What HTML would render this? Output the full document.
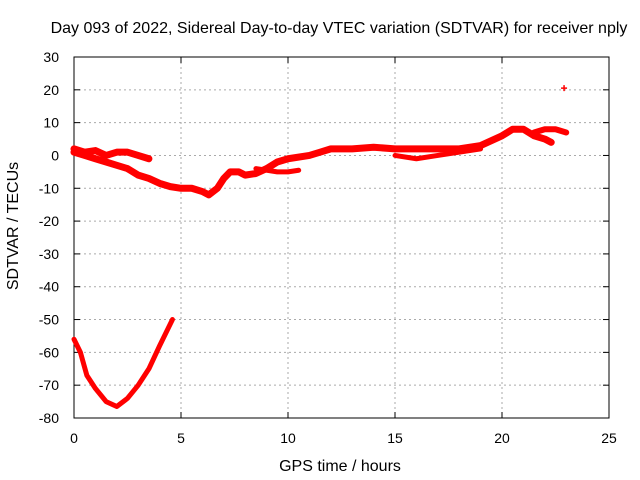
<!DOCTYPE html>
<html><head><meta charset="utf-8"><style>
body{margin:0;background:#fff}
svg{display:block;font-family:"Liberation Sans",sans-serif;font-size:14px}
</style></head><body>
<svg width="640" height="480">
<g id="grid"></g>
<g id="axes"></g>
<g id="series"></g>
<text x="339" y="33" text-anchor="middle" style="font-size:16px">Day 093 of 2022, Sidereal Day-to-day VTEC variation (SDTVAR) for receiver nply</text>
<text x="340" y="471" text-anchor="middle" style="font-size:16px">GPS time / hours</text>
<text x="18" y="226" text-anchor="middle" style="font-size:16px" transform="rotate(-90 18 226)">SDTVAR / TECUs</text>
</svg>
<script>
const xTicks=[0,5,10,15,20,25];
const yTicks=[30,20,10,0,-10,-20,-30,-40,-50,-60,-70,-80];
const lowerCurve=[[0,-56],[0.3,-60],[0.6,-67],[1,-71],[1.5,-75],[2,-76.5],[2.5,-74],[3,-70],[3.5,-65],[4,-58],[4.6,-50]];
const mainTrack=[[0,1],[0.5,0],[1,-1],[1.5,-2],[2,-3],[2.5,-4],[3,-6],[3.5,-7],[4,-8.5],[4.5,-9.5],[5,-10],[5.5,-10],[6,-11],[6.3,-12],[6.7,-10],[7,-7],[7.3,-5],[7.7,-5],[8,-6],[8.5,-5.5],[9,-4],[9.5,-2],[10,-1],[11,0],[11.5,1],[12,2],[13,2],[14,2.5],[15,2],[16,2],[17,2],[18,2],[19,3],[20,6],[20.5,8],[21,8],[21.5,6],[22,5],[22.3,4]];
const earlyBand=[[0,2],[0.5,1],[1,1.5],[1.5,0],[2,1],[2.5,1],[3,0],[3.5,-1]];
const segA=[[8.5,-4],[9.5,-5],[10,-5],[10.5,-4.5]];
const segB=[[15,0],[16,-1],[17,0],[18,1],[19,2]];
const segC=[[21.5,7],[22,8],[22.5,8],[23,7]];
const outlier=[[22.9,20.5]];
const X0=74,X1=609,Y0=418,Y1=57;
const xs=v=>X0+(v-0)/25*(X1-X0);
const ys=v=>Y0-(v+80)/110*(Y0-Y1);
const NS='http://www.w3.org/2000/svg';
function mk(t,a,p){const e=document.createElementNS(NS,t);for(const k in a)e.setAttribute(k,a[k]);p.appendChild(e);return e;}
const grid=document.getElementById('grid'),axes=document.getElementById('axes'),ser=document.getElementById('series');
xTicks.forEach(t=>{const x=xs(t);
 if(t>0&&t<25){const l=mk('line',{x1:x,x2:x,y1:Y1,y2:Y0,stroke:'#aaa','stroke-dasharray':'2,3'},grid);}
 mk('line',{x1:x,x2:x,y1:Y0,y2:Y0-6,stroke:'#000'},axes);mk('line',{x1:x,x2:x,y1:Y1,y2:Y1+6,stroke:'#000'},axes);
 const tx=mk('text',{x:x,y:Y0+25,'text-anchor':'middle'},axes);tx.textContent=t;
 });
yTicks.forEach(t=>{const y=ys(t);
 if(t>-80&&t<30){const l=mk('line',{x1:X0,x2:X1,y1:y,y2:y,stroke:'#aaa','stroke-dasharray':'2,3'},grid);}
 mk('line',{x1:X0,x2:X0+6,y1:y,y2:y,stroke:'#000'},axes);mk('line',{x1:X1,x2:X1-6,y1:y,y2:y,stroke:'#000'},axes);
 const tx=mk('text',{x:X0-15,y:y+5,'text-anchor':'end'},axes);tx.textContent=t;
 });
const fr=mk('rect',{x:X0,y:Y1,width:X1-X0,height:Y0-Y1,fill:'none',stroke:'#000'},axes);

function line(d,w,name){const p=mk('polyline',{points:d.map(q=>xs(q[0])+','+ys(q[1])).join(' '),fill:'none',stroke:'#f00','stroke-width':w,'stroke-linejoin':'round','stroke-linecap':'round'},ser);
 }
line(lowerCurve,5,'lower-curve');
line(mainTrack,7,'main-track');
line(earlyBand,7,'early-band');
line(segA,5,'segment-a');
line(segB,5,'segment-b');
line(segC,6,'segment-c');
outlier.forEach(q=>{const x=xs(q[0]),y=ys(q[1]);
 const g=mk('path',{d:`M${x-3},${y}H${x+3}M${x},${y-3}V${y+3}`,stroke:'#f00','stroke-width':1.5},ser);
 });
</script>
</body></html>
